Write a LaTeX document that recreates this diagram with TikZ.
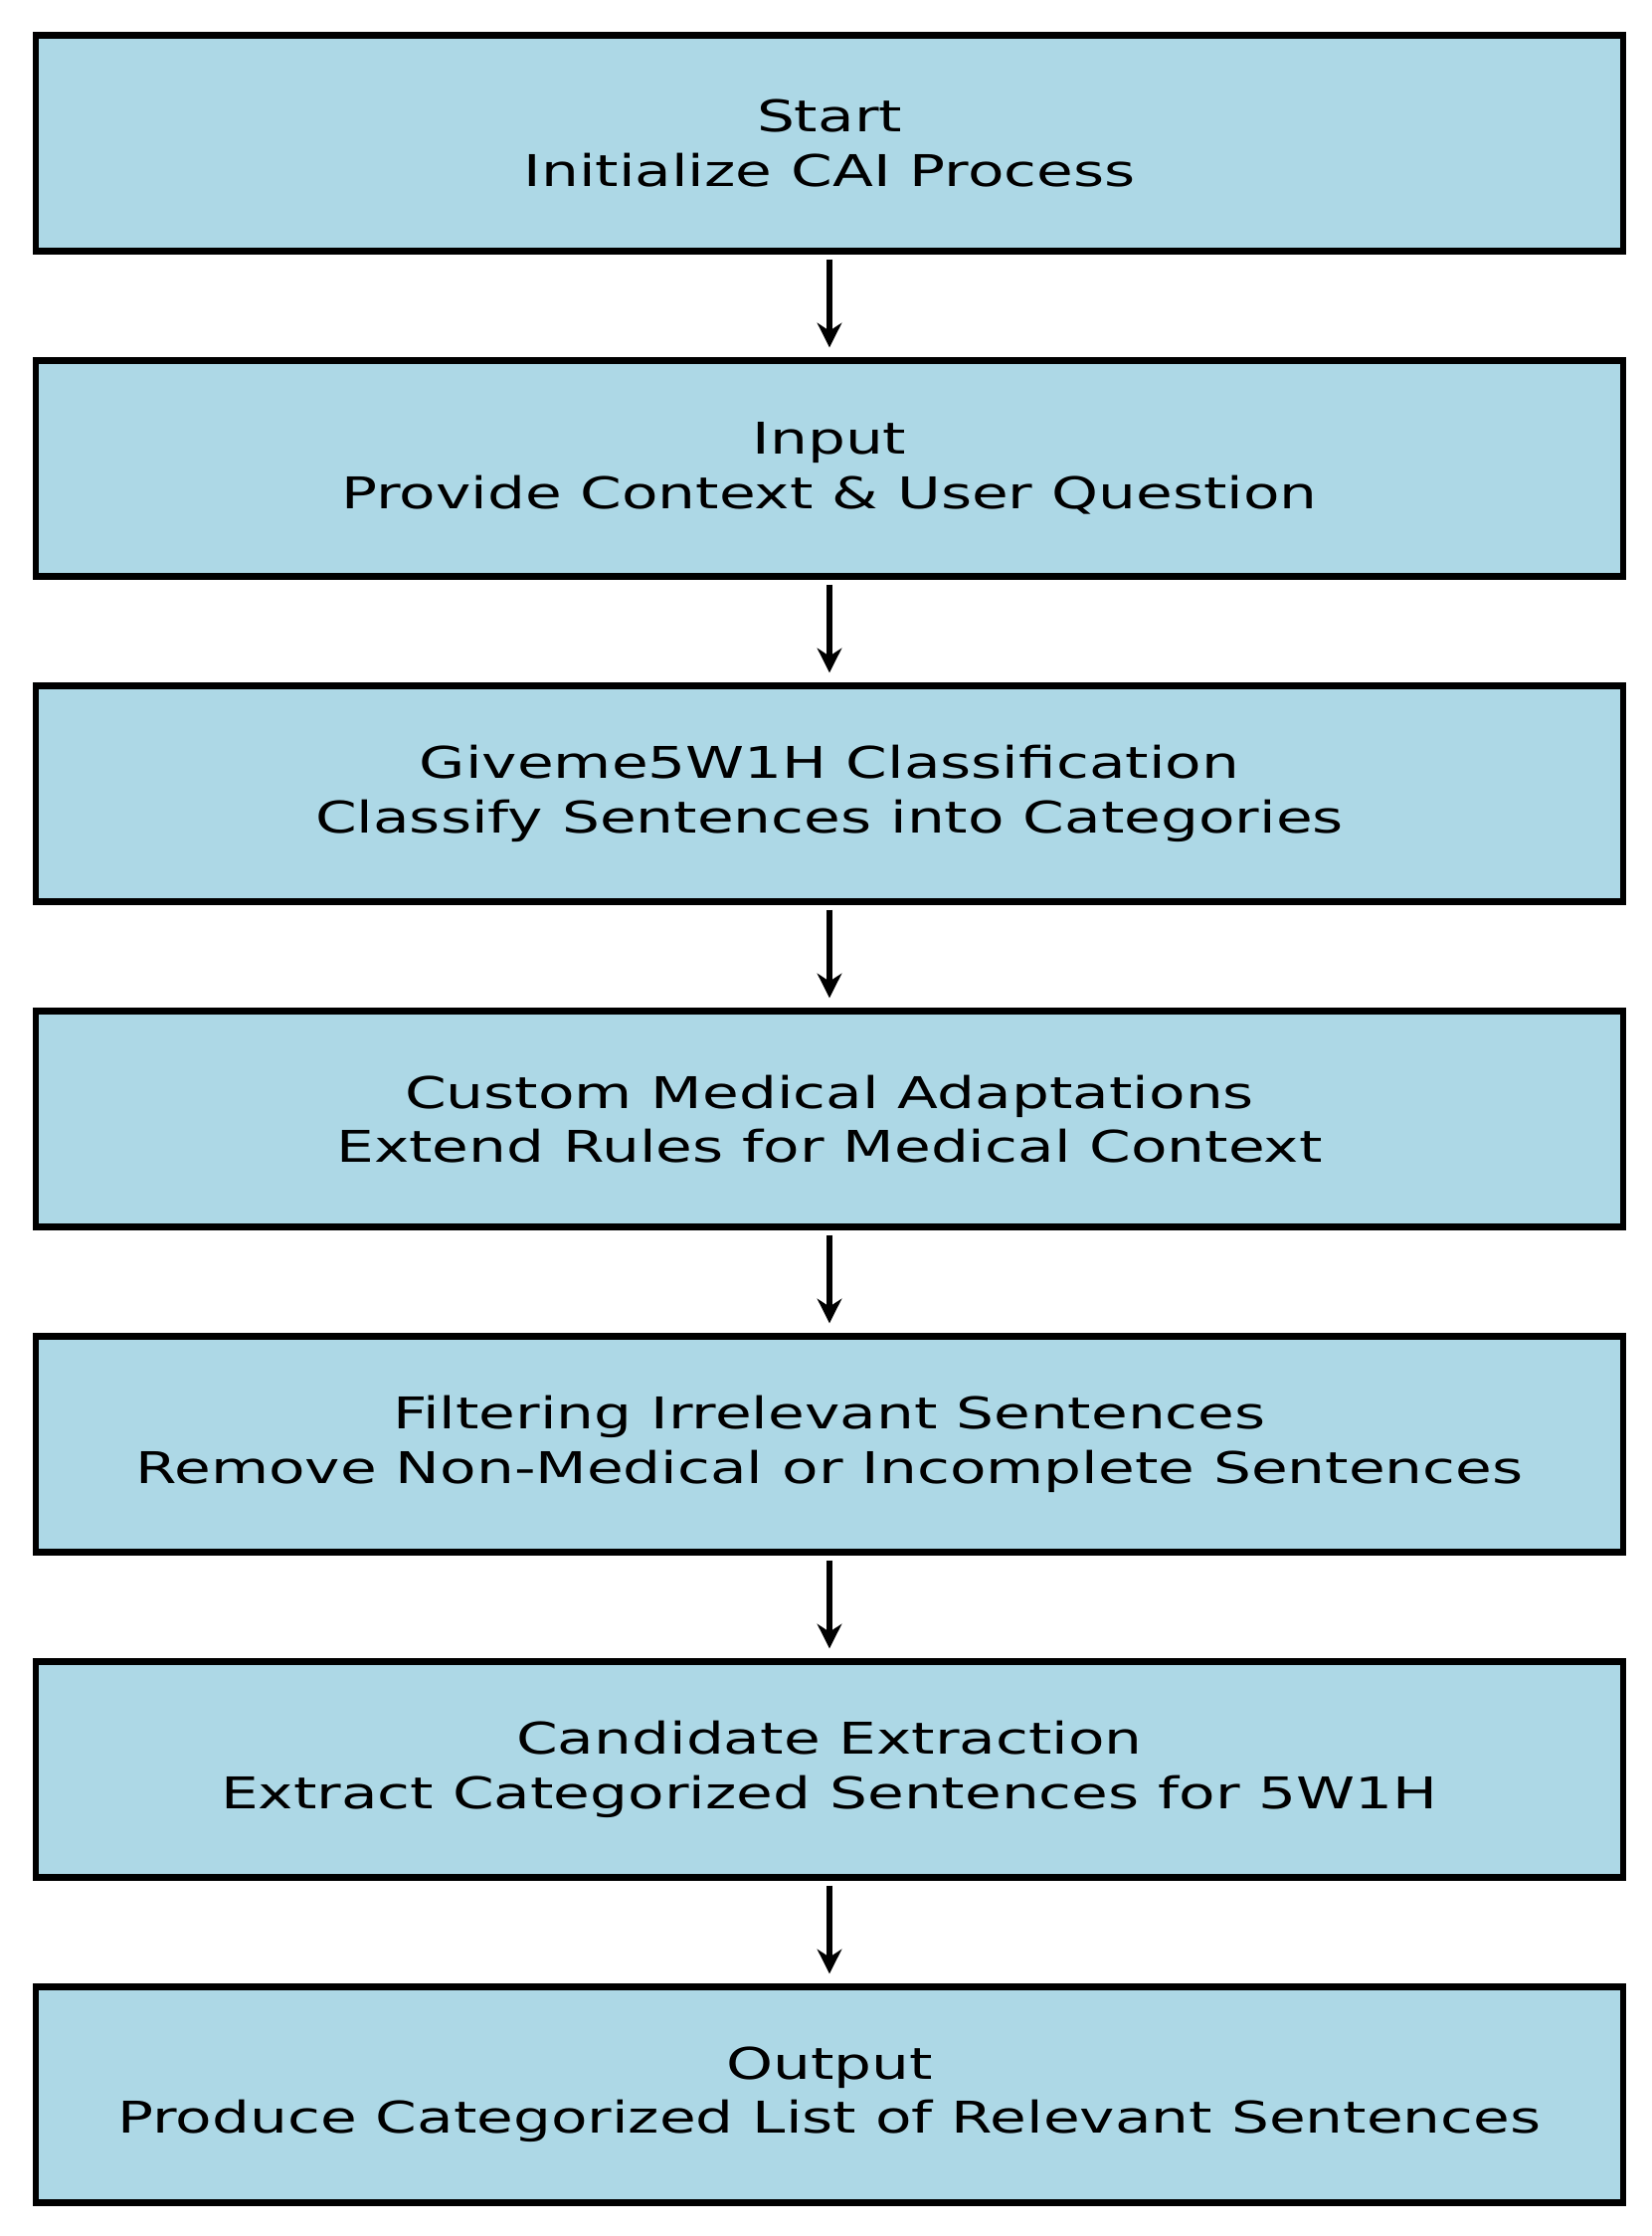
\documentclass[tikz,border=0pt]{standalone}
\usepackage{fontspec}
\setmainfont{DejaVu Sans}
\usetikzlibrary{arrows.meta}
\definecolor{boxblue}{HTML}{ADD8E6}
\tikzset{
  box/.style={draw=black, line width=1.8pt, fill=boxblue, minimum width=15.96cm, minimum height=2.17cm, inner sep=0pt, align=center, font=\fontsize{12.5}{15.5}\selectfont},
  arr/.style={-{Stealth[length=7pt,width=7pt]}, line width=1.6pt}
}
\newcommand{\wide}[1]{\scalebox{1.36}[1]{#1}}
\begin{document}
\begin{tikzpicture}
\useasboundingbox (0,0) rectangle (16.61,22.48);
\def\cx{8.34}
\node[box] (b1) at (\cx,{22.48-0.355-1.085-0*3.27}) {\wide{Start}\\\wide{Initialize CAI Process}};
\node[box] (b2) at (\cx,{22.48-0.355-1.085-1*3.27}) {\wide{Input}\\\wide{Provide Context \& User Question}};
\node[box] (b3) at (\cx,{22.48-0.355-1.085-2*3.27}) {\wide{Giveme5W1H Classification}\\\wide{Classify Sentences into Categories}};
\node[box] (b4) at (\cx,{22.48-0.355-1.085-3*3.27}) {\wide{Custom Medical Adaptations}\\\wide{Extend Rules for Medical Context}};
\node[box] (b5) at (\cx,{22.48-0.355-1.085-4*3.27}) {\wide{Filtering Irrelevant Sentences}\\\wide{Remove Non-Medical or Incomplete Sentences}};
\node[box] (b6) at (\cx,{22.48-0.355-1.085-5*3.27}) {\wide{Candidate Extraction}\\\wide{Extract Categorized Sentences for 5W1H}};
\node[box] (b7) at (\cx,{22.48-0.355-1.085-6*3.27}) {\wide{Output}\\\wide{Produce Categorized List of Relevant Sentences}};
\foreach \a/\b in {b1/b2,b2/b3,b3/b4,b4/b5,b5/b6,b6/b7}
  \draw[arr] ([yshift=-0.05cm]\a.south) -- ([yshift=0.1cm]\b.north);
\end{tikzpicture}
\end{document}
